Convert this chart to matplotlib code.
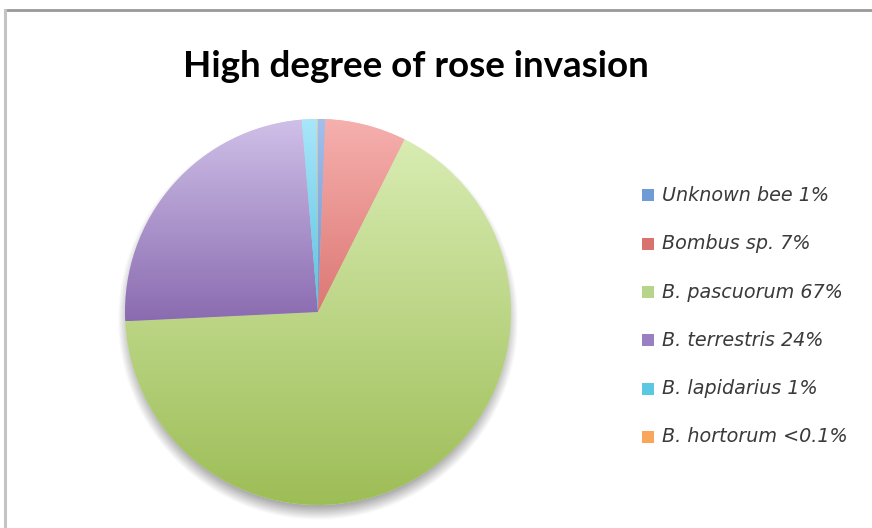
import numpy as np
import matplotlib
matplotlib.use("Agg")
import matplotlib.pyplot as plt
from matplotlib.patches import Rectangle
from matplotlib.lines import Line2D
from matplotlib.colors import to_rgb

# Pollinator visits, share of all visits (%)
species = ["Unknown bee", "Bombus sp.", "B. pascuorum", "B. terrestris",
           "B. lapidarius", "B. hortorum"]
shares = [0.6, 6.8, 66.8, 24.4, 1.3, 0.05]
legend_labels = ["Unknown bee 1%", "Bombus sp. 7%", "B. pascuorum 67%",
                 "B. terrestris 24%", "B. lapidarius 1%", "B. hortorum <0.1%"]
title = "High degree of rose invasion"

# light (top) / dark (bottom) shades for each wedge's vertical gradient
light = ["#a3c0ec", "#f6b0ae", "#d8ecb2", "#cfc0e8", "#a9e6fa", "#fbc08a"]
dark = ["#6d92cf", "#dc7874", "#9dbd56", "#8a6bb0", "#58c3e0", "#f59440"]
swatch = ["#6f9bd6", "#d9726e", "#b7d58a", "#9a80c0", "#5ac8e2", "#f9a55a"]

W, H = 872, 528
fig = plt.figure(figsize=(W / 100, H / 100), dpi=100)
fig.patch.set_facecolor("white")

# chart frame (top and left edges)
fig.add_artist(Line2D([5 / W, 1], [1 - 10 / H, 1 - 10 / H], color="#999999", lw=2.0))
fig.add_artist(Line2D([5 / W, 5 / W], [1 - 10 / H, 0], color="#c4c4c4", lw=2.2))

cx, cy, r = 318, 312, 193
half = 215
ax = fig.add_axes([(cx - half) / W, (H - cy - half) / H, 2 * half / W, 2 * half / H])
lim = half / r
ax.set_aspect("equal")
ax.axis("off")

# soft drop shadow under the pie
n = 400
g = np.linspace(-lim, lim, n)
X, Y = np.meshgrid(g, g)
d = np.hypot(X, Y + 0.04)
alpha = 0.5 * np.clip((1.04 - d) / 0.07, 0, 1)
shadow = np.zeros((n, n, 4))
shadow[..., :3] = 0.35
shadow[..., 3] = alpha
ax.imshow(shadow, extent=(-lim, lim, -lim, lim), origin="lower", zorder=0,
          interpolation="bilinear")

wedges, _ = ax.pie(shares, startangle=90, counterclock=False, radius=1,
                   wedgeprops=dict(linewidth=0), frame=False)

for w, lo, hi in zip(wedges, light, dark):
    verts = w.get_path().vertices
    y0, y1 = verts[:, 1].min(), verts[:, 1].max()
    x0, x1 = verts[:, 0].min(), verts[:, 0].max()
    if y1 - y0 < 1e-6:
        y1 = y0 + 1e-3
    t = np.linspace(0, 1, 256)[:, None]
    c_hi, c_lo = np.array(to_rgb(hi)), np.array(to_rgb(lo))
    grad = c_hi[None, None, :] * (1 - t[..., None]) + c_lo[None, None, :] * t[..., None]
    grad = np.repeat(grad, 2, axis=1)
    w.set_facecolor(lo)
    w.set_zorder(1)
    im = ax.imshow(grad, extent=(x0, x1, y0, y1), origin="lower", aspect="auto",
                   zorder=2, interpolation="bilinear")
    im.set_clip_path(w)
ax.set_xlim(-lim, lim)
ax.set_ylim(-lim, lim)

fig.text(416 / W, 1 - 77 / H, title, ha="center", va="baseline",
         fontsize=26.5, fontweight="bold", family="Lato", color="black")

# legend
row_y = [195, 243.5, 292, 340, 388.5, 437]
for lab, col, yy in zip(legend_labels, swatch, row_y):
    fig.add_artist(Rectangle(((642) / W, 1 - (yy + 6) / H), 12 / W, 12 / H,
                             transform=fig.transFigure, facecolor=col, edgecolor="none"))
    fig.text(662 / W, 1 - yy / H, lab, ha="left", va="center", fontsize=13.8,
             style="italic", family="DejaVu Sans", color="#3a3a3a")

fig.savefig("out.png", dpi=100, facecolor="white")
